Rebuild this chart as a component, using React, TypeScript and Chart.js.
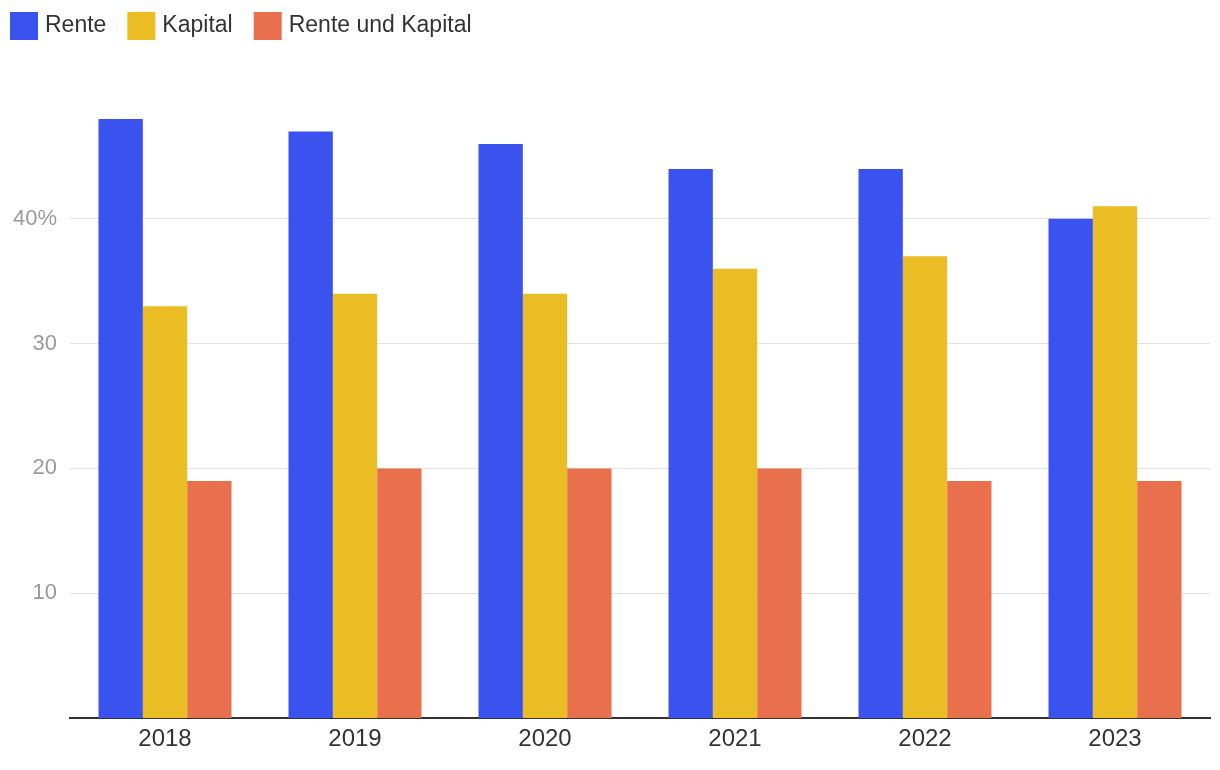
import React, { useEffect, useRef } from "react";
import { Chart, registerables } from "chart.js";

Chart.register(...registerables);

const categories = ["2018", "2019", "2020", "2021", "2022", "2023"];
const rente = [48, 47, 46, 44, 44, 40];
const kapital = [33, 34, 34, 36, 37, 41];
const renteUndKapital = [19, 20, 20, 20, 19, 19];
const yTicks = [10, 20, 30, 40];
const seriesLabels = ["Rente", "Kapital", "Rente und Kapital"];
const seriesColors = ["#3A53EE", "#EBBD25", "#E8704D"];

const FONT = "'Liberation Sans', Arial, Helvetica, sans-serif";

const legendPlugin = {
  id: "customLegend",
  afterDraw(chart: any) {
    const ctx = chart.ctx;
    ctx.save();
    ctx.font = `23px ${FONT}`;
    ctx.textBaseline = "alphabetic";
    ctx.textAlign = "left";
    let x = 10;
    const y = 12;
    const box = 28;
    chart.data.datasets.forEach((ds: any) => {
      ctx.fillStyle = ds.backgroundColor;
      ctx.fillRect(x, y, box, box);
      ctx.fillStyle = "#333333";
      const tx = x + box + 7;
      ctx.fillText(ds.label, tx, 32);
      x = tx + ctx.measureText(ds.label).width + 21;
    });
    ctx.restore();
  },
};

export default function App() {
  const ref = useRef<HTMLCanvasElement | null>(null);
  useEffect(() => {
    if (!ref.current) return;
    const values = [rente, kapital, renteUndKapital];
    const chart = new Chart(ref.current, {
      type: "bar",
      data: {
        labels: categories,
        datasets: values.map((v, i) => ({
          label: seriesLabels[i],
          data: v,
          backgroundColor: seriesColors[i],
          borderWidth: 0,
          categoryPercentage: 0.7,
          barPercentage: 1.0,
        })),
      },
      options: {
        animation: false,
        responsive: true,
        maintainAspectRatio: false,
        layout: { padding: { top: 94, right: 10, left: 0, bottom: 0 } },
        plugins: {
          legend: { display: false },
          tooltip: { enabled: false },
        },
        scales: {
          x: {
            grid: { display: false, drawTicks: false },
            border: { display: true, color: "#333333", width: 2 },
            ticks: {
              color: "#333333",
              font: { family: FONT, size: 24 },
              padding: 7,
            },
            afterFit: (scale: any) => {
              scale.height = 52;
            },
          },
          y: {
            min: 0,
            max: 50,
            afterBuildTicks: (scale: any) => {
              scale.ticks = yTicks.map((v) => ({ value: v }));
            },
            grid: { color: "#e2e2e2", lineWidth: 1, drawTicks: false },
            border: { display: false },
            ticks: {
              color: "#9a9a9a",
              font: { family: FONT, size: 22 },
              padding: 13,
              callback: (v: any) => (v === 40 ? `${v}%` : `${v}`),
            },
            afterFit: (scale: any) => {
              scale.width = 70;
            },
          },
        },
      },
      plugins: [legendPlugin],
    });
    return () => chart.destroy();
  }, []);
  return (
    <div style={{ position: "fixed", left: 0, top: 0, width: 1220, height: 770 }}>
      <canvas ref={ref} />
    </div>
  );
}
